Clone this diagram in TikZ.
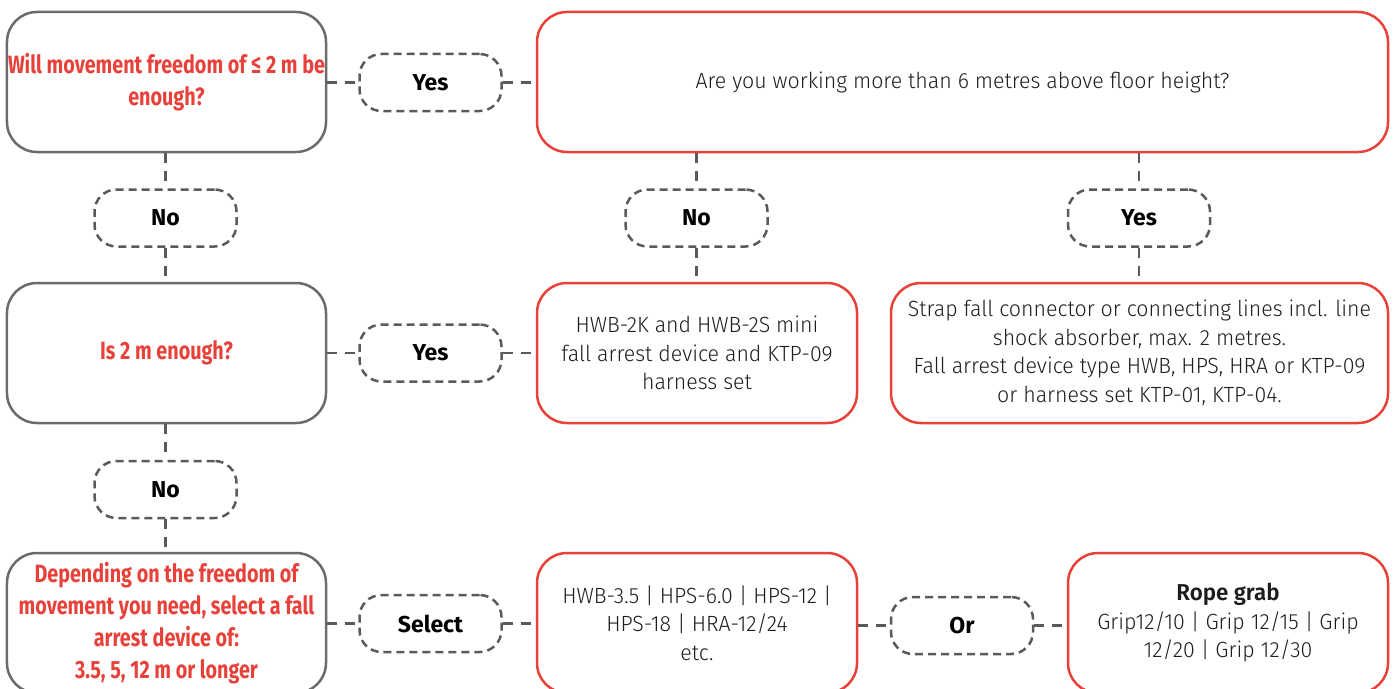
\documentclass[tikz,border=0pt]{standalone}
\usepackage{fontspec}
\setmainfont{Fira Sans}
\newfontfamily\redfamily[FakeStretch=0.79]{Fira Sans}
\newfontfamily\bodyfamily[FakeStretch=0.97, BoldFont={Fira Sans SemiBold}]{Fira Sans Light}
\newfontfamily\lblfamily[FakeStretch=1.0]{Fira Sans}
\definecolor{boxred}{HTML}{E8413A}
\definecolor{boxgrey}{HTML}{6B6B6B}
\definecolor{dashgrey}{HTML}{5A5A5A}
\definecolor{txt}{HTML}{1E1E1E}
\tikzset{
  x=1bp, y=-1bp,
  qbox/.style={draw=boxgrey, line width=2.5bp, rounded corners=30bp,
    minimum width=#1, minimum height=140bp, align=center, inner sep=0pt,
    text=boxred, font={\redfamily\bfseries\fontsize{25bp}{32bp}\selectfont}},
  abox/.style={draw=boxred, line width=2.5bp, rounded corners=30bp,
    minimum width=#1, minimum height=140bp, align=center, inner sep=0pt,
    text=txt, font={\bodyfamily\fontsize{22bp}{28.5bp}\selectfont}},
  pill/.style={draw=dashgrey, line width=2.5bp, dash pattern=on 8bp off 5bp,
    rounded corners=22bp, minimum width=142bp, minimum height=57bp,
    inner sep=0pt, text=black, font={\lblfamily\bfseries\fontsize{23bp}{26bp}\selectfont}},
  conn/.style={draw=dashgrey, line width=2.5bp, dash pattern=on 10bp off 8bp}
}
\begin{document}
\begin{tikzpicture}
\useasboundingbox (0,0) rectangle (1396,689);
\clip (0,0) rectangle (1396,689);
% main boxes
\node[qbox=319bp] (A) at (166.5,82) {Will movement freedom of \symbol{"2264} 2 m be\\enough?};
\node[abox=851bp] (B) at (962.5,82) {\raisebox{-3bp}{Are you working more than 6 metres above floor height?}};
\node[qbox=319bp] (C) at (166.5,353) {Is 2 m enough?};
\node[abox=320bp] (D) at (697,353) {HWB-2K and HWB-2S mini\\fall arrest device and KTP-09\\harness set};
\node[abox=497bp] (E) at (1139.5,353) {Strap fall connector or connecting lines incl. line\\shock absorber, max. 2 metres.\\Fall arrest device type HWB, HPS, HRA or KTP-09\\or harness set KTP-01, KTP-04.};
\node[qbox=319bp] (F) at (166.5,623) {Depending on the freedom of\\movement you need, select a fall\\arrest device of:\\3.5, 5, 12 m or longer};
\node[abox=320bp] (G) at (697,623) {HWB-3.5 | HPS-6.0 | HPS-12 |\\HPS-18 | HRA-12/24\\etc.};
\node[abox=320bp] (H) at (1228,623) {{\bfseries\fontsize{23bp}{28.5bp}\selectfont Rope grab}\\Grip12/10 | Grip 12/15 | Grip\\12/20 | Grip 12/30};
% labels
\node[pill] (Y1) at (430.5,82.5) {Yes};
\node[pill] (N1) at (165.5,218) {No};
\node[pill] (N2) at (696.5,218) {No};
\node[pill] (Y2) at (1139,218) {Yes};
\node[pill] (Y3) at (430.5,353) {Yes};
\node[pill] (N3) at (165.5,489.5) {No};
\node[pill] (S) at (430.5,623.5) {Select};
\node[pill] (O) at (962,625.5) {Or};
% connectors
\draw[conn] (A.east |- Y1) -- (Y1.west);
\draw[conn] (Y1.east) -- (B.west |- Y1);
\draw[conn] (A.south -| N1) -- (N1.north);
\draw[conn] (N1.south) -- (C.north -| N1);
\draw[conn] (B.south -| N2) -- (N2.north);
\draw[conn] (N2.south) -- (D.north -| N2);
\draw[conn] (B.south -| Y2) -- (Y2.north);
\draw[conn] (Y2.south) -- (E.north -| Y2);
\draw[conn] (C.east |- Y3) -- (Y3.west);
\draw[conn] (Y3.east) -- (D.west |- Y3);
\draw[conn] (C.south -| N3) -- (N3.north);
\draw[conn] (N3.south) -- (F.north -| N3);
\draw[conn] (F.east |- S) -- (S.west);
\draw[conn] (S.east) -- (G.west |- S);
\draw[conn] (G.east |- O) -- (O.west);
\draw[conn] (O.east) -- (H.west |- O);
\end{tikzpicture}
\end{document}
